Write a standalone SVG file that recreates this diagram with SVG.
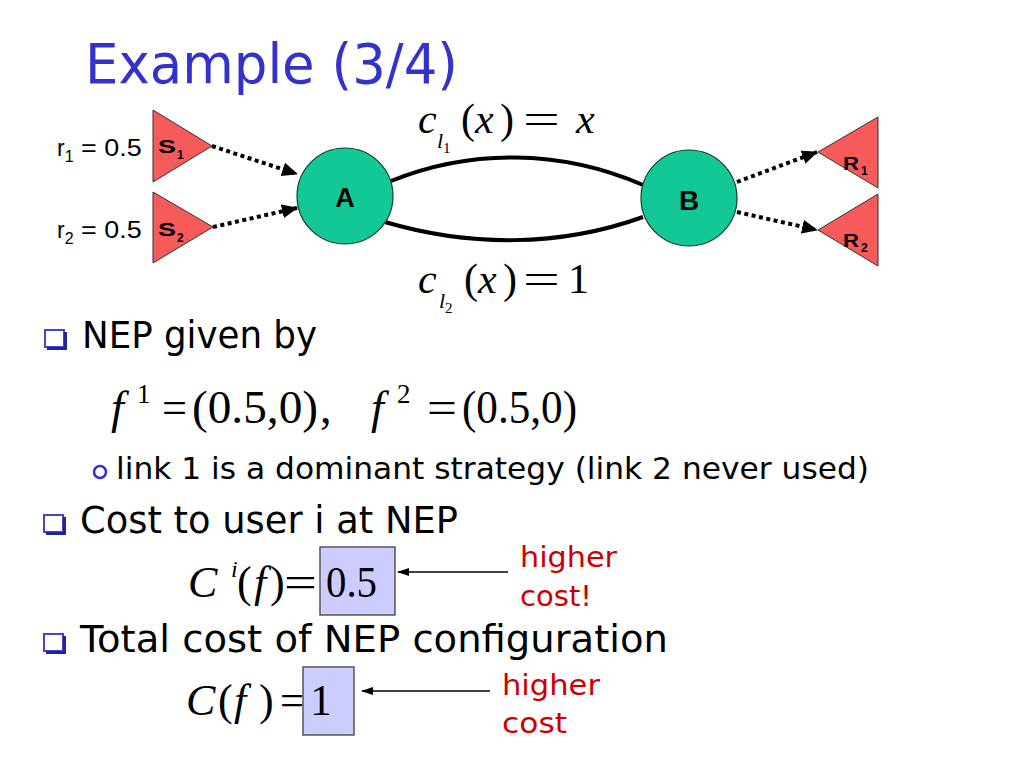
<svg xmlns="http://www.w3.org/2000/svg" width="1024" height="768" viewBox="0 0 1024 768">
<style>
.body{font-family:"DejaVu Sans","Liberation Sans",sans-serif;fill:#000}
.title{font-family:"DejaVu Sans","Liberation Sans",sans-serif;fill:#3333cc;font-size:56px}
.red{font-family:"DejaVu Sans","Liberation Sans",sans-serif;fill:#cc0000;font-size:29px}
.ar{font-family:"Liberation Sans",Arial,sans-serif;fill:#000}
.bold{font-family:"Liberation Sans",Arial,sans-serif;font-weight:bold;fill:#000}
.m{font-family:"Liberation Serif","Times New Roman",serif;fill:#000}
.i{font-style:italic}
.tri{fill:#f65a5a;stroke:#333;stroke-width:1}
.node{fill:#12c896;stroke:#1a3a2a;stroke-width:1.2}
.dot{fill:none;stroke:#000;stroke-width:4;stroke-dasharray:4 3.5;marker-end:url(#ah)}
.link{fill:none;stroke:#000;stroke-width:4}
.thin{fill:none;stroke:#000;stroke-width:1.3;marker-end:url(#ahs)}
.box{fill:#ccccff;stroke:#555;stroke-width:1.5}
.sq{fill:#fff;stroke:#4444cc;stroke-width:2}
.sqs{fill:none;stroke:#22229a;stroke-width:3}
</style>
<defs>
<marker id="ah" markerUnits="userSpaceOnUse" markerWidth="16" markerHeight="14" viewBox="0 0 16 14" refX="15" refY="7" orient="auto">
<path d="M0,0 L16,7 L0,14 z" fill="#000"/>
</marker>
<marker id="ahs" markerUnits="userSpaceOnUse" markerWidth="12" markerHeight="8" viewBox="0 0 12 8" refX="11" refY="4" orient="auto">
<path d="M0,0 L12,4 L0,8 z" fill="#000"/>
</marker>
</defs>
<rect width="1024" height="768" fill="#fff"/>

<text class="title" x="85" y="83" textLength="373" lengthAdjust="spacingAndGlyphs">Example (3/4)</text>

<g id="connectors">
<path class="dot" d="M212,146 L297,174"/>
<path class="dot" d="M213,227 L297,208"/>
<path class="dot" d="M737,182 L817,152"/>
<path class="dot" d="M737,212 L817,230"/>
<path class="link" d="M391,181 C470,149 560,149 643,185"/>
<path class="link" d="M385,222 C470,247 560,247 643,217"/>
</g>

<g id="S1">
<polygon class="tri" points="153,110 153,182 212,146"/>
<text class="bold" x="158" y="153" font-size="19" textLength="18" lengthAdjust="spacingAndGlyphs">S</text>
<text class="bold" x="177" y="159" font-size="12">1</text>
</g>
<g id="S2">
<polygon class="tri" points="153,192 153,263 213,227"/>
<text class="bold" x="158" y="236" font-size="19" textLength="18" lengthAdjust="spacingAndGlyphs">S</text>
<text class="bold" x="177" y="242" font-size="12">2</text>
</g>
<g id="A">
<circle class="node" cx="345" cy="196" r="48"/>
<text class="bold" x="345" y="207" font-size="27" text-anchor="middle">A</text>
</g>
<g id="B">
<circle class="node" cx="689" cy="198" r="48"/>
<text class="bold" x="689" y="210" font-size="28" text-anchor="middle">B</text>
</g>
<g id="R1">
<polygon class="tri" points="818,152 878,117 878,188"/>
<text class="bold" x="843" y="170" font-size="18" textLength="16" lengthAdjust="spacingAndGlyphs">R</text>
<text class="bold" x="861" y="175" font-size="12">1</text>
</g>
<g id="R2">
<polygon class="tri" points="818,230 878,194 878,266"/>
<text class="bold" x="843" y="247" font-size="18" textLength="16" lengthAdjust="spacingAndGlyphs">R</text>
<text class="bold" x="861" y="252" font-size="12">2</text>
</g>

<text class="ar" x="57" y="156" font-size="23">r<tspan font-size="16" dy="6">1</tspan><tspan dy="-6" textLength="68" lengthAdjust="spacingAndGlyphs"> = 0.5</tspan></text>
<text class="ar" x="57" y="238" font-size="23">r<tspan font-size="16" dy="6">2</tspan><tspan dy="-6" textLength="68" lengthAdjust="spacingAndGlyphs"> = 0.5</tspan></text>

<!-- link labels -->
<g class="m">
<text class="i" x="418" y="133" font-size="42">c</text>
<text class="i" x="437" y="148" font-size="22">l</text>
<text x="443" y="153" font-size="15">1</text>
<text x="461" y="133" font-size="42">(</text>
<text class="i" x="475" y="133" font-size="42">x</text>
<text x="500" y="133" font-size="42">)</text>
<text x="523" y="133" font-size="42" textLength="37" lengthAdjust="spacingAndGlyphs">=</text>
<text class="i" x="576" y="133" font-size="42">x</text>

<text class="i" x="418" y="293" font-size="42">c</text>
<text class="i" x="439" y="308" font-size="22">l</text>
<text x="445" y="313" font-size="15">2</text>
<text x="464" y="293" font-size="42">(</text>
<text class="i" x="478" y="293" font-size="42">x</text>
<text x="503" y="293" font-size="42">)</text>
<text x="523" y="293" font-size="42" textLength="37" lengthAdjust="spacingAndGlyphs">=</text>
<text x="568" y="293" font-size="42">1</text>
</g>

<!-- bullets -->
<g id="bullet-nep">
<rect class="sq" x="45" y="330" width="19" height="17"/>
<path class="sqs" d="M47,348.5 H65.5 V332"/>
</g>
<text class="body" x="82" y="348" font-size="37" textLength="235" lengthAdjust="spacingAndGlyphs">NEP given by</text>

<g class="m">
<text class="i" x="111" y="423" font-size="46">f</text>
<text x="137" y="403" font-size="27">1</text>
<text x="162" y="423" font-size="46" textLength="25" lengthAdjust="spacingAndGlyphs">=</text>
<text x="192" y="423" font-size="46" textLength="126" lengthAdjust="spacingAndGlyphs">(0.5,0)</text>
<text x="320" y="423" font-size="46">,</text>
<text class="i" x="371" y="423" font-size="46">f</text>
<text x="397" y="403" font-size="27">2</text>
<text x="427" y="423" font-size="46" textLength="30" lengthAdjust="spacingAndGlyphs">=</text>
<text x="462" y="423" font-size="46" textLength="115" lengthAdjust="spacingAndGlyphs">(0.5,0)</text>
</g>

<circle cx="100" cy="472" r="6" fill="none" stroke="#3333cc" stroke-width="2.5"/>
<text class="body" x="116" y="479" font-size="30" textLength="753" lengthAdjust="spacingAndGlyphs">link 1 is a dominant strategy (link 2 never used)</text>

<g id="bullet-cost">
<rect class="sq" x="44" y="515" width="19" height="17"/>
<path class="sqs" d="M46,533.5 H64.5 V517"/>
</g>
<text class="body" x="80" y="533" font-size="37" textLength="378" lengthAdjust="spacingAndGlyphs">Cost to user i at NEP</text>

<rect class="box" x="320" y="547" width="75" height="68"/>
<g class="m">
<text class="i" x="188" y="597" font-size="44">C</text>
<text class="i" x="231" y="577" font-size="24">i</text>
<text x="237" y="597" font-size="44">(</text>
<text class="i" x="254" y="597" font-size="44">f</text>
<text x="270" y="597" font-size="44">)</text>
<text x="284" y="597" font-size="44" textLength="33" lengthAdjust="spacingAndGlyphs">=</text>
<text x="326" y="597" font-size="44" textLength="51" lengthAdjust="spacingAndGlyphs">0.5</text>
</g>
<path class="thin" d="M508,572 L398,572"/>
<text class="red" x="520" y="567" textLength="97" lengthAdjust="spacingAndGlyphs">higher</text>
<text class="red" x="520" y="606" textLength="72" lengthAdjust="spacingAndGlyphs">cost!</text>

<g id="bullet-total">
<rect class="sq" x="44" y="634" width="19" height="17"/>
<path class="sqs" d="M46,652.5 H64.5 V636"/>
</g>
<text class="body" x="80" y="652" font-size="37" textLength="588" lengthAdjust="spacingAndGlyphs">Total cost of NEP configuration</text>

<rect class="box" x="303" y="667" width="51" height="68"/>
<g class="m">
<text class="i" x="186" y="715" font-size="44">C</text>
<text x="218" y="715" font-size="44">(</text>
<text class="i" x="234" y="715" font-size="44">f</text>
<text x="259" y="715" font-size="44">)</text>
<text x="280" y="715" font-size="44" textLength="24" lengthAdjust="spacingAndGlyphs">=</text>
<text x="310" y="715" font-size="44">1</text>
</g>
<path class="thin" d="M490,691 L362,691"/>
<text class="red" x="502" y="695" textLength="98" lengthAdjust="spacingAndGlyphs">higher</text>
<text class="red" x="502" y="733" textLength="65" lengthAdjust="spacingAndGlyphs">cost</text>
</svg>
